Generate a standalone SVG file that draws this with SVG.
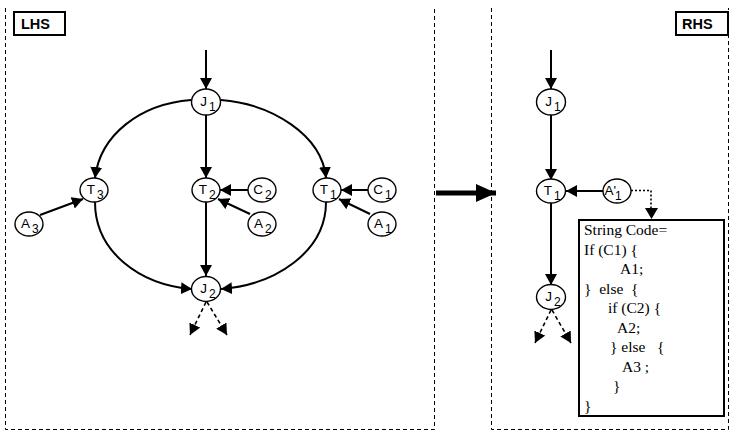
<svg xmlns="http://www.w3.org/2000/svg" width="739" height="437" viewBox="0 0 739 437">
<defs>
<style>
.panel{fill:none;stroke:#000;stroke-width:1;stroke-dasharray:4,3}
.lbl{fill:#fff;stroke:#000;stroke-width:2}
.lbltxt{font-family:"Liberation Sans",Arial,sans-serif;font-size:14.5px;font-weight:bold;fill:#000}
.node ellipse{fill:#fff;stroke:#000;stroke-width:1.4}
.nt{font-family:"Liberation Sans",Arial,sans-serif;font-size:13.5px;fill:#000}
.ns{font-family:"Liberation Sans",Arial,sans-serif;font-size:12px;fill:#000}
.edge{fill:none;stroke:#000;stroke-width:2;marker-end:url(#ah)}
.dash{fill:none;stroke:#000;stroke-width:1.6;stroke-dasharray:4,3;marker-end:url(#ah)}
.dot{fill:none;stroke:#000;stroke-width:1.6;stroke-dasharray:2,2}
.code{font-family:"Liberation Serif","Times New Roman",serif;font-size:15.5px;fill:#000}
</style>
<marker id="ah" viewBox="0 0 11 12" refX="11" refY="6" markerWidth="11" markerHeight="12" markerUnits="userSpaceOnUse" orient="auto">
<path d="M0,0 L11,6 L0,12 z" fill="#000"/>
</marker>
<marker id="bigah" viewBox="0 0 20 18" refX="20" refY="9" markerWidth="20" markerHeight="18" markerUnits="userSpaceOnUse" orient="auto">
<path d="M0,0 L20,9 L0,18 z" fill="#000"/>
</marker>
</defs>
<rect width="739" height="437" fill="#fff"/>

<g id="panels">
<path class="panel" d="M5.5,8 V429.5 H434.5 V8"/>
<path class="panel" d="M491.5,8 V429.5 H728.5 V8"/>
</g>

<g id="lhs-label">
<rect class="lbl" x="14" y="12" width="51" height="23"/>
<text class="lbltxt" x="21" y="29">LHS</text>
</g>
<g id="rhs-label">
<rect class="lbl" x="676" y="12" width="52" height="23"/>
<text class="lbltxt" x="682" y="29">RHS</text>
</g>

<g id="connectors">
<!-- LHS -->
<path class="edge" d="M206,50 V89"/>
<path class="edge" d="M206,115 V178"/>
<path class="edge" d="M191,100 C140,104 100,135 95,178"/>
<path class="edge" d="M221,100 C272,104 322,135 326,178"/>
<path class="edge" d="M248,190 H220"/>
<path class="edge" d="M250,214 L218,199"/>
<path class="edge" d="M368,190 H341"/>
<path class="edge" d="M370,214 L339,199"/>
<path class="edge" d="M40,215 L83,199"/>
<path class="edge" d="M206,202 V276"/>
<path class="edge" d="M95,202 C95,252 140,285 192,289"/>
<path class="edge" d="M326,202 C326,252 275,285 221,289"/>
<path class="dash" d="M206,302 L190,335"/>
<path class="dash" d="M207,302 L227,335"/>
<!-- transform arrow -->
<path d="M436,193 H496" fill="none" stroke="#000" stroke-width="5" marker-end="url(#bigah)"/>
<!-- RHS -->
<path class="edge" d="M551,50 V89"/>
<path class="edge" d="M551,115 V180"/>
<path class="edge" d="M603,191 H566"/>
<path class="edge" d="M551,203 V285"/>
<path class="dash" d="M551,310 L535,343"/>
<path class="dash" d="M552,310 L571,343"/>
<path class="dot" d="M631,190.5 H651 V208"/>
<path d="M645,208 L658,208 L651.5,219 z" fill="#000"/>
</g>

<g id="J1" class="node"><ellipse cx="206" cy="102" rx="14.5" ry="13"/><text class="nt" x="207" y="106" text-anchor="end">J</text><text class="ns" x="209" y="111">1</text></g>
<g id="T3" class="node"><ellipse cx="94" cy="190" rx="14" ry="12"/><text class="nt" x="95" y="194" text-anchor="end">T</text><text class="ns" x="97" y="199">3</text></g>
<g id="T2" class="node"><ellipse cx="206" cy="190" rx="14" ry="12"/><text class="nt" x="207" y="194" text-anchor="end">T</text><text class="ns" x="209" y="199">2</text></g>
<g id="C2" class="node"><ellipse cx="262" cy="190" rx="14" ry="12"/><text class="nt" x="263" y="194" text-anchor="end">C</text><text class="ns" x="265" y="199">2</text></g>
<g id="T1" class="node"><ellipse cx="327" cy="190" rx="14" ry="12"/><text class="nt" x="328" y="194" text-anchor="end">T</text><text class="ns" x="330" y="199">1</text></g>
<g id="C1" class="node"><ellipse cx="382" cy="190" rx="14" ry="12"/><text class="nt" x="383" y="194" text-anchor="end">C</text><text class="ns" x="385" y="199">1</text></g>
<g id="A3" class="node"><ellipse cx="29" cy="224" rx="14" ry="12"/><text class="nt" x="30" y="228" text-anchor="end">A</text><text class="ns" x="32" y="233">3</text></g>
<g id="A2" class="node"><ellipse cx="262" cy="224" rx="14" ry="12"/><text class="nt" x="263" y="228" text-anchor="end">A</text><text class="ns" x="265" y="233">2</text></g>
<g id="A1" class="node"><ellipse cx="382" cy="224" rx="14" ry="12"/><text class="nt" x="383" y="228" text-anchor="end">A</text><text class="ns" x="385" y="233">1</text></g>
<g id="J2" class="node"><ellipse cx="206" cy="289" rx="14.5" ry="12.5"/><text class="nt" x="207" y="293" text-anchor="end">J</text><text class="ns" x="209" y="298">2</text></g>

<g id="RJ1" class="node"><ellipse cx="551" cy="102" rx="14.5" ry="13"/><text class="nt" x="552" y="106" text-anchor="end">J</text><text class="ns" x="554" y="111">1</text></g>
<g id="RT1" class="node"><ellipse cx="551" cy="191" rx="14.5" ry="12"/><text class="nt" x="552" y="195" text-anchor="end">T</text><text class="ns" x="554" y="200">1</text></g>
<g id="RA1" class="node"><ellipse cx="617" cy="191" rx="14" ry="12"/><text class="nt" x="616" y="195" text-anchor="end">A'</text><text class="ns" x="615" y="200">1</text></g>
<g id="RJ2" class="node"><ellipse cx="551" cy="297" rx="14.5" ry="12.5"/><text class="nt" x="552" y="301" text-anchor="end">J</text><text class="ns" x="554" y="306">2</text></g>

<g id="code">
<rect x="579" y="220" width="145" height="196" fill="#fff" stroke="#000" stroke-width="2"/>
<text class="code" x="584" y="235">String Code=</text>
<text class="code" x="584" y="254.5">If (C1) {</text>
<text class="code" x="620" y="274">A1;</text>
<text class="code" x="584" y="293.5" xml:space="preserve">}  else  {</text>
<text class="code" x="608" y="313">if (C2) {</text>
<text class="code" x="617" y="332.5">A2;</text>
<text class="code" x="610" y="352" xml:space="preserve">} else   {</text>
<text class="code" x="622" y="371.5">A3 ;</text>
<text class="code" x="613" y="391">}</text>
<text class="code" x="584" y="410.5">}</text>
</g>
</svg>
